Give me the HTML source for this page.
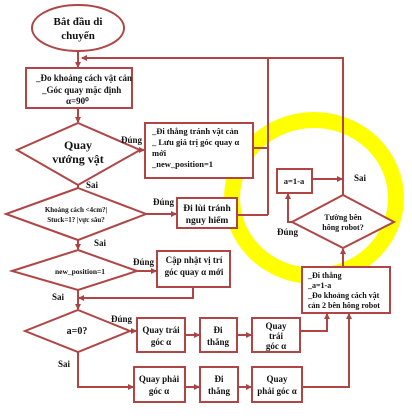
<!DOCTYPE html>
<html><head><meta charset="utf-8"><style>
html,body{margin:0;padding:0;background:#fff;}
svg{display:block;}
text{font-family:"Liberation Serif",serif;font-weight:bold;fill:#111;}
</style></head><body>
<svg width="412" height="420" viewBox="0 0 412 420" xmlns="http://www.w3.org/2000/svg">
<defs><marker id="a" markerWidth="6" markerHeight="6" refX="5" refY="3" orient="auto" markerUnits="userSpaceOnUse"><path d="M0,0 L6,3 L0,6 z" fill="#a84444"/></marker></defs>
<ellipse cx="314" cy="198" rx="82" ry="78" fill="none" stroke="#ffff00" stroke-width="16"/>
<g fill="none" stroke="#b04545" stroke-width="2">
<ellipse cx="78" cy="28" rx="46" ry="23" fill="#fff"/>
<line x1="78" y1="51" x2="78" y2="67" marker-end="url(#a)"/>
<polyline points="343,195 343,58 82,58" marker-end="url(#a)"/>
<line x1="268" y1="58" x2="268" y2="215"/>
<rect x="26" y="68" width="106" height="40" fill="#fff"/>
<line x1="78" y1="108" x2="78" y2="122" marker-end="url(#a)"/>
<polygon points="78,123 140,150 78,185 17,150" fill="#fff"/>
<line x1="140" y1="150" x2="144" y2="150" marker-end="url(#a)"/>
<rect x="145" y="123" width="108" height="55" fill="#fff"/>
<line x1="253" y1="148" x2="268" y2="148"/>
<line x1="78" y1="185" x2="78" y2="188"/>
<polygon points="78,188 146,214 78,240 6,214" fill="#fff"/>
<line x1="146" y1="214" x2="176" y2="214" marker-end="url(#a)"/>
<rect x="177" y="198" width="60" height="30" fill="#fff"/>
<line x1="237" y1="215" x2="268" y2="215"/>
<line x1="78" y1="240" x2="78" y2="249" marker-end="url(#a)"/>
<polygon points="78,250 137,271 78,290 12,271" fill="#fff"/>
<line x1="137" y1="271" x2="156" y2="271" marker-end="url(#a)"/>
<rect x="157" y="251" width="73" height="36" fill="#fff"/>
<polyline points="193,287 193,298 79,298" marker-end="url(#a)"/>
<line x1="78" y1="290" x2="78" y2="309" marker-end="url(#a)"/>
<polygon points="78,310 130,331 78,352 25,331" fill="#fff"/>
<line x1="130" y1="331" x2="136" y2="331" marker-end="url(#a)"/>
<rect x="137" y="318" width="48" height="34" fill="#fff"/>
<line x1="185" y1="335" x2="199" y2="335" marker-end="url(#a)"/>
<rect x="200" y="318" width="37" height="34" fill="#fff"/>
<line x1="237" y1="335" x2="251" y2="335" marker-end="url(#a)"/>
<rect x="252" y="318" width="48" height="34" fill="#fff"/>
<polyline points="300,331 327,331 327,314" marker-end="url(#a)"/>
<polyline points="78,352 78,387 133,387" marker-end="url(#a)"/>
<rect x="134" y="367" width="51" height="35" fill="#fff"/>
<line x1="185" y1="387" x2="199" y2="387" marker-end="url(#a)"/>
<rect x="200" y="367" width="38" height="35" fill="#fff"/>
<line x1="238" y1="387" x2="251" y2="387" marker-end="url(#a)"/>
<rect x="252" y="367" width="50" height="35" fill="#fff"/>
<polyline points="302,387 349,387 349,314" marker-end="url(#a)"/>
<rect x="302" y="267" width="88" height="46" fill="#fff"/>
<line x1="343" y1="267" x2="343" y2="249" marker-end="url(#a)"/>
<polygon points="343,195 394,222 343,248 292,222" fill="#fff"/>
<polyline points="292,222 288,222 288,194" marker-end="url(#a)"/>
<rect x="277" y="169" width="35" height="24" fill="#fff"/>
<line x1="312" y1="179" x2="342" y2="179" marker-end="url(#a)"/>
</g>
<g font-size="10">
<text x="78" y="25" text-anchor="middle" font-size="11">Bắt đầu di</text>
<text x="78" y="39" text-anchor="middle" font-size="11">chuyển</text>
<text x="36" y="81" font-size="9">_Đo khoảng cách vật cản</text>
<text x="42" y="93" font-size="9">_Góc quay mặc định</text>
<text x="66" y="104" font-size="9">α=90⁰</text>
<text x="78" y="149" text-anchor="middle" font-size="12">Quay</text>
<text x="78" y="163" text-anchor="middle" font-size="12">vướng vật</text>
<text x="121" y="143" font-size="9">Đúng</text>
<text x="152" y="134" font-size="8.5">_Đi thẳng tránh vật cản</text>
<text x="152" y="145" font-size="8.5">_ Lưu giá trị góc quay α</text>
<text x="152" y="156" font-size="8.5">mới</text>
<text x="152" y="167" font-size="8.5">_new_position=1</text>
<text x="86" y="188" font-size="9">Sai</text>
<text x="76" y="212" text-anchor="middle" font-size="7">Khoảng cách &lt;4cm?|</text>
<text x="76" y="222" text-anchor="middle" font-size="7">Stuck=1? |vực sâu?</text>
<text x="153" y="205" font-size="9">Đúng</text>
<text x="207" y="211" text-anchor="middle" font-size="9.5">Đi lùi tránh</text>
<text x="207" y="223" text-anchor="middle" font-size="9.5">nguy hiểm</text>
<text x="94" y="246" font-size="9">Sai</text>
<text x="80" y="274" text-anchor="middle" font-size="7.5">new_position=1</text>
<text x="133" y="265" font-size="9">Đúng</text>
<text x="194" y="263" text-anchor="middle" font-size="9">Cập nhật vị trí</text>
<text x="194" y="275" text-anchor="middle" font-size="9">góc quay α mới</text>
<text x="52" y="300" font-size="9">Sai</text>
<text x="77" y="334" text-anchor="middle" font-size="10">a=0?</text>
<text x="111" y="322" font-size="9">Đúng</text>
<text x="161" y="333" text-anchor="middle" font-size="9">Quay trái</text>
<text x="161" y="345" text-anchor="middle" font-size="9">góc α</text>
<text x="218" y="333" text-anchor="middle" font-size="9">Đi</text>
<text x="218" y="345" text-anchor="middle" font-size="9">thẳng</text>
<text x="276" y="329" text-anchor="middle" font-size="9">Quay</text>
<text x="276" y="339" text-anchor="middle" font-size="9">trái</text>
<text x="276" y="349" text-anchor="middle" font-size="9">góc α</text>
<text x="58" y="367" font-size="9">Sai</text>
<text x="159" y="382" text-anchor="middle" font-size="9">Quay phải</text>
<text x="159" y="394" text-anchor="middle" font-size="9">góc α</text>
<text x="219" y="382" text-anchor="middle" font-size="9">Đi</text>
<text x="219" y="394" text-anchor="middle" font-size="9">thẳng</text>
<text x="277" y="382" text-anchor="middle" font-size="9">Quay</text>
<text x="277" y="394" text-anchor="middle" font-size="9">phải góc α</text>
<text x="308" y="278" font-size="8">_Đi thẳng</text>
<text x="308" y="288" font-size="8">_a=1-a</text>
<text x="308" y="298" font-size="8">_Đo khoảng cách vật</text>
<text x="308" y="308" font-size="8">cản 2 bên hông robot</text>
<text x="343" y="220" text-anchor="middle" font-size="8">Tường bên</text>
<text x="343" y="230" text-anchor="middle" font-size="8">hông robot?</text>
<text x="277" y="235" font-size="9">Đúng</text>
<text x="294" y="184" text-anchor="middle" font-size="8.5">a=1-a</text>
<text x="354" y="181" font-size="9">Sai</text>
</g>
</svg>
</body></html>
